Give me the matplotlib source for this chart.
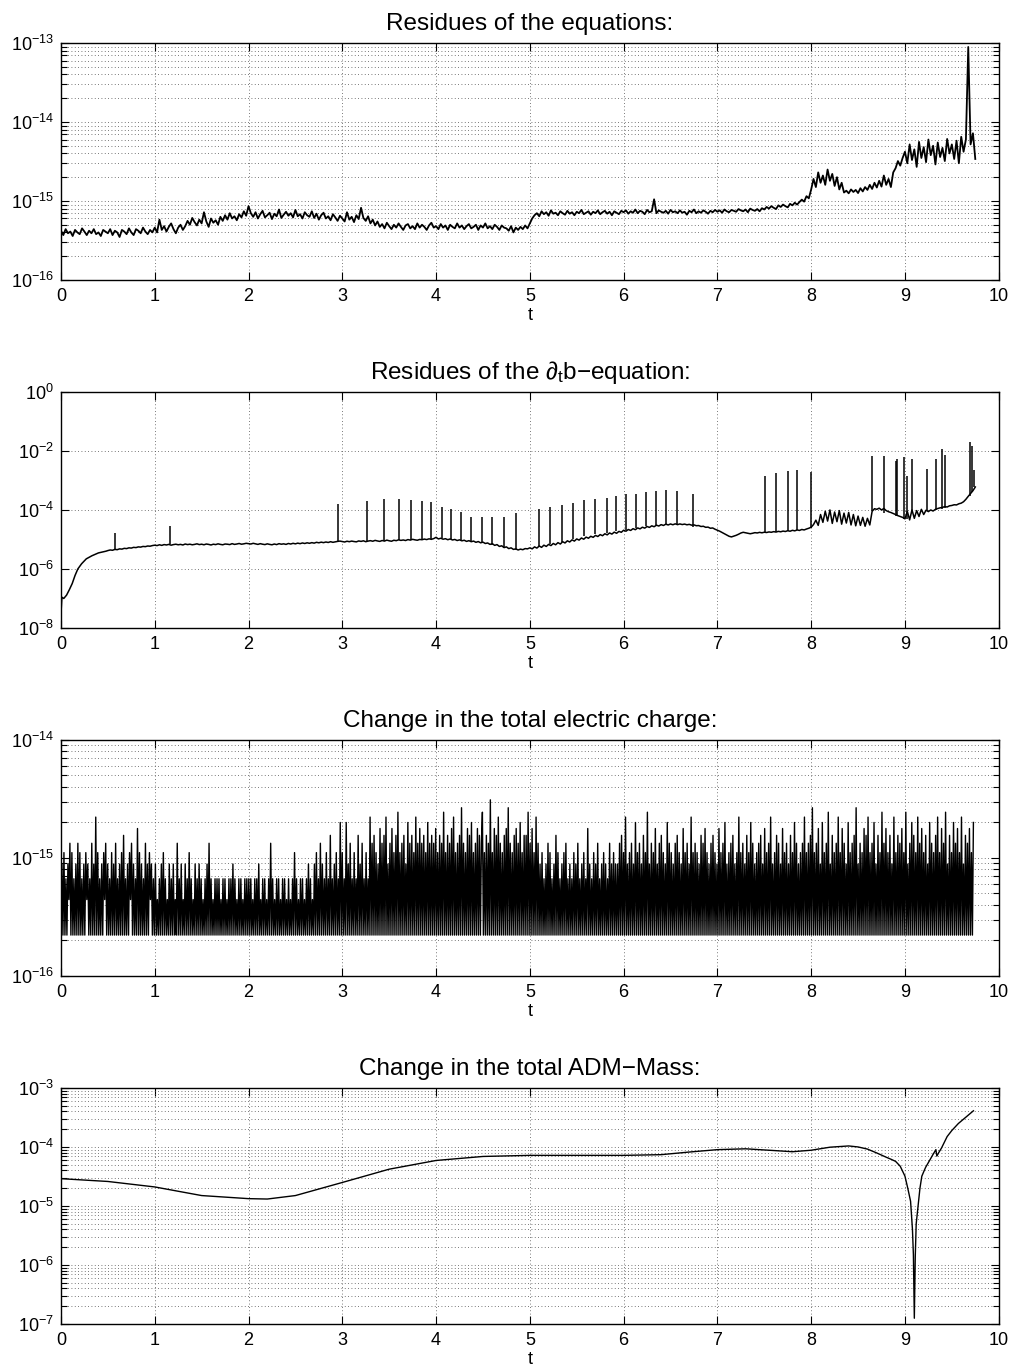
import numpy as np
import matplotlib
matplotlib.use("Agg")
import matplotlib.pyplot as plt
from matplotlib.ticker import FixedLocator, LogLocator, NullLocator, NullFormatter

plt.rcParams['font.family'] = ['Liberation Sans', 'DejaVu Sans']
plt.rcParams['mathtext.fontset'] = 'custom'
plt.rcParams['mathtext.rm'] = 'Liberation Sans'
plt.rcParams['mathtext.it'] = 'Liberation Sans:italic'
plt.rcParams['mathtext.default'] = 'regular'

# ---- panel 1: residues of the equations (units of 1e-17), t = 0 .. 9.75
res_vals = """
42 37 44 39 41 36 43 40 38 45 41 37 42 39 44 38 40 36 43 41 39 44 37 42 40 35 43 41 38 45 40 37 44 42 39 46 41 38 43 40
46 40 58 43 48 41 47 52 44 39 46 50 43 48 56 50 61 54 49 58 52 72 55 47 60 53 57 50 63 56 66 58 70 60 64 57 68 62 74 65
86 70 63 72 60 68 75 62 66 71 59 69 64 78 61 67 73 65 70 62 77 64 68 60 72 66 63 74 61 69 58 66 71 60 64 57 68 62 56 65
60 55 72 58 63 54 66 59 82 61 56 64 52 58 49 55 47 51 45 53 48 44 50 46 52 47 43 49 51 45 48 44 52 46 50 47 43 49 53 46
48 44 51 46 49 43 50 47 45 52 46 49 44 48 51 45 47 50 43 49 46 52 45 48 44 50 47 43 49 46 45 42 48 40 46 43 47 44 49 45
52 60 66 70 64 74 68 72 65 76 69 71 66 74 70 67 75 69 72 66 73 70 77 68 71 74 67 73 70 76 68 72 75 69 73 66 74 71 68 75
72 76 69 74 71 78 70 75 73 68 77 72 74 105 70 76 73 71 75 69 77 72 74 70 76 71 73 67 75 72 78 70 74 71 76 73 69 75 72 77
73 76 71 78 74 72 77 75 73 79 76 74 78 72 80 77 75 79 74 81 78 84 80 86 82 79 88 84 90 86 83 92 88 95 90 97 104 98 115 108
140 190 150 230 170 210 160 250 180 220 155 200 140 170 128 135 125 140 130 138 126 145 132 150 138 160 142 170 148 180 152 210 160 190 150 230 260 320 280 350
420 300 520 330 450 270 560 350 480 310 600 380 500 290 550 360 470 320 610 400 520 340 580 300 650 420 600 8900 520 720 340
"""

# ---- panel 2: residues of the d_t b equation (units of 1e-7)
db_t_early = [0.0, 0.01, 0.03, 0.06, 0.09, 0.12, 0.15, 0.18, 0.22, 0.27, 0.33, 0.40, 0.48]
db_v_early = [0.3, 1.1, 1.0, 1.3, 2.0, 3.2, 6, 10, 15, 22, 28, 35, 40]
db_vals = """
42 44 43 46 45 48 47 50 49 52 51 54 53 56 55 58 57 60 59 62
64 62 66 63 67 65 68 64 67 69 66 68 65 70 67 69 66 68 71 67 69 66 70 68 65 69 67 71 68 66 70 69 67 72 68 70 73 69 71 74
72 70 74 71 68 72 69 67 71 68 66 70 67 72 69 71 68 73 70 74 71 75 72 76 73 77 74 78 75 80 77 81 78 82 79 84 80 83 86 88
85 82 87 84 88 85 83 89 86 90 84 88 91 87 93 89 86 92 88 95 90 87 94 91 97 93 96 92 99 95 101 97 94 100 98 103 99 105 101 107
118 104 110 102 106 98 104 96 100 92 97 90 94 86 91 84 88 80 85 77 81 73 76 68 72 63 67 58 61 53 56 49 52 46 48 44 47 45 49 48
52 48 56 51 60 54 64 58 68 62 73 66 78 70 84 76 90 82 97 88 104 95 112 102 120 110 128 118 137 126 146 134 156 143 166 152 177 162 188 175
205 190 218 202 232 214 246 228 260 242 275 256 290 270 305 285 318 298 330 310 335 315 338 318 336 320 332 314 325 305 312 292 296 275 280 258 262 240 245 222
205 190 172 155 140 128 122 130 138 150 165 175 168 160 156 162 170 166 174 168 176 172 180 175 184 178 188 182 192 186 198 190 204 196 210 202 218 210 226 240
260 320 450 300 700 380 900 420 1000 350 850 400 950 330 780 360 820 310 700 290 620 300 560 280 520 310 900 1100 1050 1150 1000 1120 950 870 820 760 700 640 600 560
500 900 460 1000 520 950 600 1050 700 980 880 1000 920 1050 1120 1180 1220 1300 1260 1380 1420 1500 1480 1620 1700 1900 2300 2900 3600 4500 6000
"""
spike_t = [0.574, 1.16, 2.95, 3.26, 3.45, 3.60, 3.73, 3.85, 3.95, 4.06, 4.16, 4.27, 4.37, 4.49,
           4.60, 4.72, 4.85, 5.10, 5.22, 5.34, 5.46, 5.58, 5.70, 5.82, 5.92, 6.03, 6.13, 6.24,
           6.34, 6.45, 6.57, 6.74, 7.51, 7.63, 7.75, 7.85, 8.00, 8.65, 8.78, 8.90, 8.92, 8.99,
           9.02, 9.08, 9.24, 9.33, 9.39, 9.43, 9.69, 9.72, 9.74]
spike_hi = [1.7e-5, 2.9e-5, 1.6e-4, 2.0e-4, 2.3e-4, 2.3e-4, 2.2e-4, 2.0e-4, 1.8e-4, 1.3e-4, 1.04e-4,
            8.8e-5, 5.9e-5, 5.8e-5, 5.8e-5, 5.8e-5, 7.7e-5, 1.1e-4, 1.3e-4, 1.5e-4, 1.7e-4, 2.1e-4,
            2.3e-4, 2.6e-4, 2.9e-4, 3.4e-4, 3.5e-4, 4.1e-4, 4.4e-4, 4.7e-4, 4.5e-4, 3.5e-4, 1.4e-3,
            1.8e-3, 2.1e-3, 2.2e-3, 1.9e-3, 6.6e-3, 7.0e-3, 4.7e-3, 5.3e-3, 6.2e-3, 1.4e-3, 5.5e-3,
            2.4e-3, 5.5e-3, 1.2e-2, 7.1e-3, 2.0e-2, 1.5e-2, 2.3e-3]
spike_lo = [4.7e-6, 6.8e-6, 8.5e-6, 8.7e-6, 9.0e-6, 9.3e-6, 9.6e-6, 9.8e-6, 1.0e-5, 1.1e-5, 1.0e-5,
            9.0e-6, 8.5e-6, 7.6e-6, 6.5e-6, 5.3e-6, 4.5e-6, 5.5e-6, 7.0e-6, 8.5e-6, 1.0e-5, 1.3e-5,
            1.5e-5, 1.7e-5, 1.9e-5, 2.1e-5, 2.4e-5, 2.8e-5, 3.2e-5, 3.3e-5, 3.3e-5, 2.7e-5, 1.7e-5,
            1.8e-5, 1.9e-5, 2.1e-5, 2.5e-5, 9.0e-5, 8.0e-5, 6.0e-5, 6.0e-5, 5.0e-5, 5.0e-5, 8.0e-5,
            9.0e-5, 1.0e-4, 1.1e-4, 1.2e-4, 3.0e-4, 4.0e-4, 6.0e-4]

# ---- panel 3: change in total charge, multiples of machine epsilon (base-17 digits)
charge_steps = (
    "14151314261513141615131415241316141a15131415261413151416131415171314152614131815141316141524"
    "1314121314151312141314121613141214131513121413141312131416131213"
    "13131213131213131413121313121313"
    "1313121313141213131213161312131312131312131213151312131312"
    "131413121415131614131513171314151319"
    "15131914161315131714161315131a161715141816171a14161815171b15161714191617151a1618161715191617"
    "16181517161b151716181a1516171c16151817191516181716b1517161e1518171a161517181c1615171816191517"
    "171b1618151a161415131416151314171513141516131413151416131415131814131514161314151413161415141"
    "41617151a141516141915161417151b1416151814161715141916151416171514181516141a151615141716181514"
    "16171514181516191415161714151a1516141715191614151617141815161a1415171614181516141715191614151"
    "61a1516171c151618141915161b141715161a15181614191516171c14161518171a1516191417151b16181517141a"
    "15171618151b14161917151a1618151714191615171a1518161b141715191618151a141716181519"
)
eps = 2.22e-16

# ---- panel 4: change in total ADM mass
adm_t = [0, 0.5, 1.0, 1.5, 2.0, 2.2, 2.5, 3.0, 3.5, 4.0, 4.5, 5.0, 5.5, 6.0, 6.4, 6.7, 7.0, 7.3,
         7.6, 7.8, 8.0, 8.2, 8.4, 8.5, 8.6, 8.7, 8.8, 8.85, 8.9, 8.95, 9.0, 9.03, 9.06, 9.08,
         9.09, 9.1, 9.11, 9.12, 9.14, 9.16, 9.18, 9.22, 9.26, 9.3, 9.33, 9.34, 9.36, 9.39, 9.45,
         9.5, 9.57, 9.65, 9.73]
adm_v = [2.9e-5, 2.6e-5, 2.1e-5, 1.5e-5, 1.33e-5, 1.31e-5, 1.5e-5, 2.5e-5, 4.2e-5, 5.9e-5, 6.9e-5,
         7.2e-5, 7.2e-5, 7.2e-5, 7.4e-5, 8.2e-5, 9.0e-5, 9.3e-5, 8.7e-5, 8.3e-5, 8.8e-5, 9.9e-5,
         1.04e-4, 1.0e-4, 9.2e-5, 7.9e-5, 6.7e-5, 6.2e-5, 5.7e-5, 4.7e-5, 3.2e-5, 2.0e-5, 1.2e-5,
         4e-6, 1.5e-6, 1.25e-7, 1.4e-6, 5e-6, 1.0e-5, 2.0e-5, 3.2e-5, 4.5e-5, 5.8e-5, 7.5e-5, 9e-5,
         7e-5, 8e-5, 9.6e-5, 1.5e-4, 1.9e-4, 2.5e-4, 3.2e-4, 4.1e-4]

res = np.array(res_vals.split(), float) * 1e-17
t_res = np.linspace(0, 9.75, len(res))

db_reg = np.array(db_vals.split(), float)
t_db = np.concatenate([db_t_early, np.linspace(0.5, 9.75, len(db_reg))])
db = np.concatenate([db_v_early, db_reg]) * 1e-7

charge = np.array([int(c, 17) for c in charge_steps]) * eps
t_charge = np.linspace(0, 9.73, len(charge))

fig = plt.figure(figsize=(10.16, 13.69), dpi=100)
rects = [[0.060, 0.7955, 0.923, 0.1731],
         [0.060, 0.5413, 0.923, 0.1724],
         [0.060, 0.2871, 0.923, 0.1724],
         [0.060, 0.0329, 0.923, 0.1724]]
axes = [fig.add_axes(r) for r in rects]

dots = (0, (1, 3))


def style(ax, ylim, major, minor, title):
    ax.set_yscale('log')
    ax.set_xlim(0, 10)
    ax.set_ylim(*ylim)
    ax.set_xticks(range(11))
    ax.xaxis.set_minor_locator(NullLocator())
    ax.yaxis.set_major_locator(FixedLocator(major))
    if minor:
        ax.yaxis.set_minor_locator(LogLocator(base=10, subs=np.arange(2, 10), numticks=50))
    else:
        ax.yaxis.set_minor_locator(NullLocator())
    ax.yaxis.set_minor_formatter(NullFormatter())
    ax.tick_params(which='both', direction='in', top=True, right=True, labelsize=13, width=0.8)
    ax.tick_params(which='major', length=6)
    ax.tick_params(axis='x', which='major', pad=6)
    ax.tick_params(axis='y', which='major', pad=5)
    ax.tick_params(which='minor', length=4)
    ax.grid(True, which='major', linestyle=dots, color='0.3', linewidth=0.6)
    if minor:
        ax.grid(True, which='minor', axis='y', linestyle=dots, color='0.3', linewidth=0.6)
    for s in ax.spines.values():
        s.set_linewidth(1.0)
    ax.set_xlabel('t', fontsize=13, labelpad=1)
    ax.set_title(title, fontsize=17.5, pad=9)


ax = axes[0]
ax.plot(t_res, res, color='k', lw=1.3)
style(ax, (1e-16, 1e-13), [1e-16, 1e-15, 1e-14, 1e-13], True, 'Residues of the equations:')

ax = axes[1]
ax.plot(t_db, db, color='k', lw=1.1)
ax.vlines(spike_t, spike_lo, spike_hi, color='k', lw=1.1)
style(ax, (1e-8, 1e0), [1e-8, 1e-6, 1e-4, 1e-2, 1e0], False,
      'Residues of the $\\partial_t$b\u2212equation:')

ax = axes[2]
ax.plot(t_charge, charge, color='k', lw=1.0)
style(ax, (1e-16, 1e-14), [1e-16, 1e-15, 1e-14], True, 'Change in the total electric charge:')

ax = axes[3]
ax.plot(adm_t, adm_v, color='k', lw=1.0)
style(ax, (1e-7, 1e-3), [1e-7, 1e-6, 1e-5, 1e-4, 1e-3], True, 'Change in the total ADM\u2212Mass:')

fig.savefig('out.png', dpi=100)
